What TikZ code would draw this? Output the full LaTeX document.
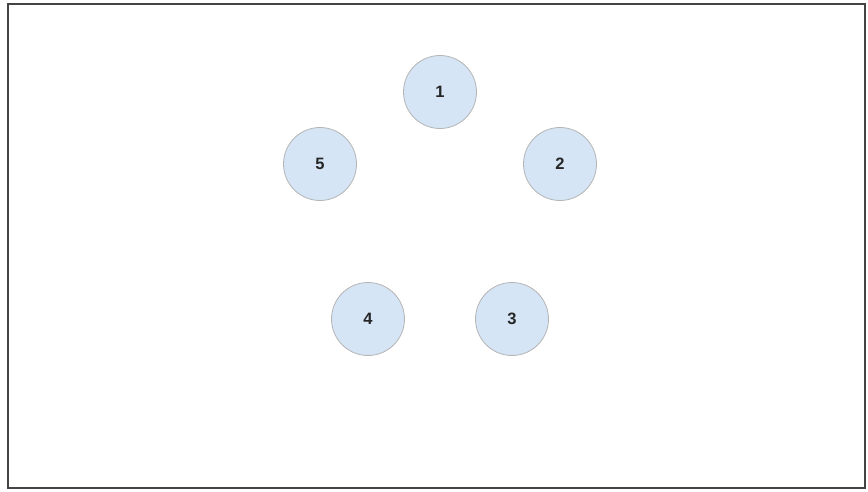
\documentclass[tikz,border=0pt]{standalone}
\usepackage{fontspec}
\setmainfont{Liberation Sans}
\definecolor{nodefill}{HTML}{D5E5F5}
\definecolor{nodeline}{HTML}{B4B4B4}
\definecolor{frameline}{HTML}{444444}
\begin{document}
\begin{tikzpicture}[x=1pt,y=-1pt,
  vertex/.style={circle,draw=nodeline,fill=nodefill,line width=0.8pt,minimum size=73pt,inner sep=0pt,font=\fontsize{16.5}{19}\selectfont\bfseries,text=black!85}]
\useasboundingbox (0,0) rectangle (868,491);
\draw[frameline,line width=2pt] (8,4) rectangle (865,488);
\node[vertex] (n1) at (440,92) {1};
\node[vertex] (n2) at (560,164) {2};
\node[vertex] (n5) at (320,164) {5};
\node[vertex] (n4) at (368,319) {4};
\node[vertex] (n3) at (512,319) {3};
\end{tikzpicture}
\end{document}
